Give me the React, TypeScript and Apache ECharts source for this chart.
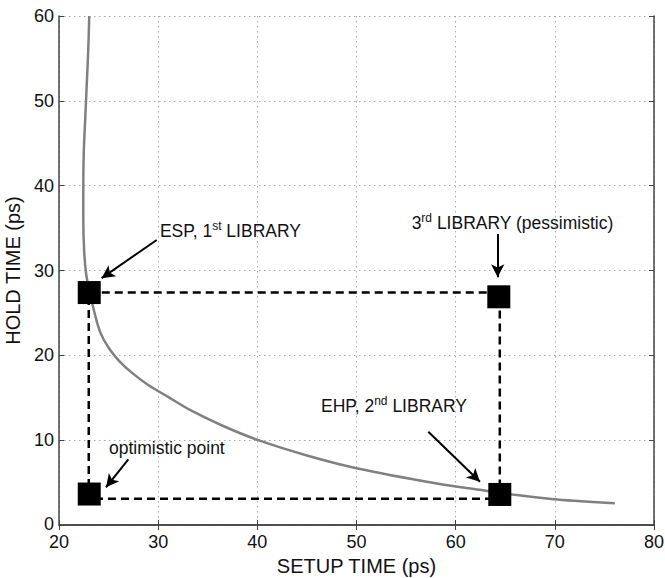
import React, { useEffect, useRef } from "react";
import * as echarts from "echarts";

// Gray trade-off curve (setup time, hold time)
const curveSetup = [23.05, 22.95, 22.8, 22.65, 22.5, 22.45, 22.45, 22.55, 22.75, 23.1, 23.5, 24.13, 25.0, 26.1, 27.4, 29.0, 31.0, 33.3, 36.5, 40.1, 45.0, 50.0, 58.1, 62.4, 66.0, 70.2, 76.05];
const curveHold = [60, 56, 52, 48, 44, 40, 36, 32, 29.5, 27.4, 25.4, 22.8, 20.9, 19.3, 17.9, 16.5, 15.1, 13.5, 11.7, 10.0, 8.2, 6.7, 4.9, 4.15, 3.55, 3.0, 2.56];

// Library points (squares)
const pointNames = ["ESP, 1st LIBRARY", "3rd LIBRARY (pessimistic)", "EHP, 2nd LIBRARY", "optimistic point"];
const pointSetup = [23.05, 64.35, 64.45, 23.05];
const pointHold = [27.4, 26.9, 3.6, 3.65];

// Dashed rectangle corners
const rectSetup = [23.0, 64.45, 64.45, 23.0, 23.0];
const rectHold = [27.4, 27.4, 3.1, 3.1, 27.4];

// Annotation texts: rich text pieces, anchor (left-bottom) in data coords
const labelTexts = [
  "{a|ESP, 1}{s|st}{a| LIBRARY}",
  "{a|3}{s|rd}{a| LIBRARY (pessimistic)}",
  "{a|EHP, 2}{s|nd}{a| LIBRARY}",
  "{b|optimistic point}",
];
const labelSetup = [30.18, 55.56, 46.42, 25.04];
const labelHold = [33.4, 34.3, 12.73, 7.78];

// Arrows: from -> to in data coords
const arrowFromSetup = [29.85, 64.24, 57.24, 26.99];
const arrowFromHold = [33.6, 34.3, 11.0, 7.74];
const arrowToSetup = [24.3, 64.24, 62.45, 24.74];
const arrowToHold = [29.1, 29.2, 5.1, 4.44];

const xTicks = [20, 30, 40, 50, 60, 70, 80];
const yTicks = [0, 10, 20, 30, 40, 50, 60];

const FONT = "'Liberation Sans', Arial, Helvetica, sans-serif";

export default function App() {
  const ref = useRef<HTMLDivElement>(null);

  useEffect(() => {
    document.body.style.margin = "0";
    if (!ref.current) return;
    const chart = echarts.init(ref.current, null, { renderer: "svg" });

    const axisLine = { show: true, lineStyle: { color: "#444", width: 1.5 } };
    const tick = { show: true, inside: true, length: 5, lineStyle: { color: "#444", width: 1 } };
    const split = { show: true, lineStyle: { color: "#aaa", width: 1, type: [1.5, 3.5] } };

    const option: any = {
      animation: false,
      backgroundColor: "#fff",
      grid: { left: 59, top: 16, right: 11, bottom: 53, containLabel: false, outerBoundsMode: "none" },
      xAxis: [
        {
          type: "value",
          min: xTicks[0],
          max: xTicks[xTicks.length - 1],
          interval: 10,
          name: "SETUP TIME (ps)",
          nameLocation: "middle",
          nameGap: 29,
          nameTextStyle: { fontFamily: FONT, fontSize: 20, color: "#111" },
          axisLine,
          axisTick: tick,
          splitLine: split,
          axisLabel: { fontFamily: FONT, fontSize: 18, color: "#111", margin: 10, lineHeight: 14 },
        },
        {
          type: "value",
          position: "top",
          min: xTicks[0],
          max: xTicks[xTicks.length - 1],
          interval: 10,
          axisLine,
          axisTick: tick,
          splitLine: { show: false },
          axisLabel: { show: false },
        },
      ],
      yAxis: [
        {
          type: "value",
          min: yTicks[0],
          max: yTicks[yTicks.length - 1],
          interval: 10,
          name: "HOLD TIME (ps)",
          nameLocation: "middle",
          nameGap: 36,
          nameTextStyle: { fontFamily: FONT, fontSize: 20, color: "#111" },
          axisLine,
          axisTick: tick,
          splitLine: split,
          axisLabel: {
            fontFamily: FONT,
            fontSize: 18,
            color: "#111",
            margin: 5,
            lineHeight: 14,
            formatter: (v: number) => (v === 0 ? "{z|0}" : String(v)),
            rich: { z: { fontFamily: FONT, fontSize: 18, color: "#111", lineHeight: 14, padding: [0, 0, 3, 0] } },
          },
        },
        {
          type: "value",
          position: "right",
          min: yTicks[0],
          max: yTicks[yTicks.length - 1],
          interval: 10,
          axisLine,
          axisTick: tick,
          splitLine: { show: false },
          axisLabel: { show: false },
        },
      ],
      series: [
        {
          type: "line",
          data: curveSetup.map((x, i) => [x, curveHold[i]]),
          showSymbol: false,
          smooth: 0.35,
          lineStyle: { color: "#808080", width: 2.5 },
          z: 2,
        },
        {
          type: "line",
          data: rectSetup.map((x, i) => [x, rectHold[i]]),
          showSymbol: false,
          lineStyle: { color: "#000", width: 2.5, type: [8, 5] },
          z: 3,
          markLine: {
            silent: true,
            symbol: ["none", "arrow"],
            symbolSize: [10, 13],
            label: { show: false },
            lineStyle: { color: "#000", width: 2, type: "solid" },
            data: arrowFromSetup.map((x, i) => [
              { coord: [x, arrowFromHold[i]] },
              { coord: [arrowToSetup[i], arrowToHold[i]] },
            ]),
          },
        },
        {
          type: "scatter",
          data: pointSetup.map((x, i) => ({ name: pointNames[i], value: [x, pointHold[i]] })),
          symbol: "rect",
          symbolSize: 23,
          itemStyle: { color: "#000", opacity: 1 },
          z: 5,
        },
      ],
    };
    chart.setOption(option);

    const graphic = labelTexts.map((t, i) => {
      const p = chart.convertToPixel({ gridIndex: 0 }, [labelSetup[i], labelHold[i]]) as number[];
      return {
        type: "text",
        x: p[0],
        y: p[1],
        z: 10,
        style: {
          text: t,
          align: "left",
          verticalAlign: "bottom",
          rich: {
            a: { fontFamily: FONT, fontSize: 17.5, fill: "#111", lineHeight: 22 },
            b: { fontFamily: FONT, fontSize: 17.5, fill: "#111", lineHeight: 22 },
            s: { fontFamily: FONT, fontSize: 12, fill: "#111", lineHeight: 10, verticalAlign: "top" },
          },
        },
      };
    });
    chart.setOption({ graphic });

    return () => chart.dispose();
  }, []);

  return <div ref={ref} style={{ width: 665, height: 578 }} />;
}
